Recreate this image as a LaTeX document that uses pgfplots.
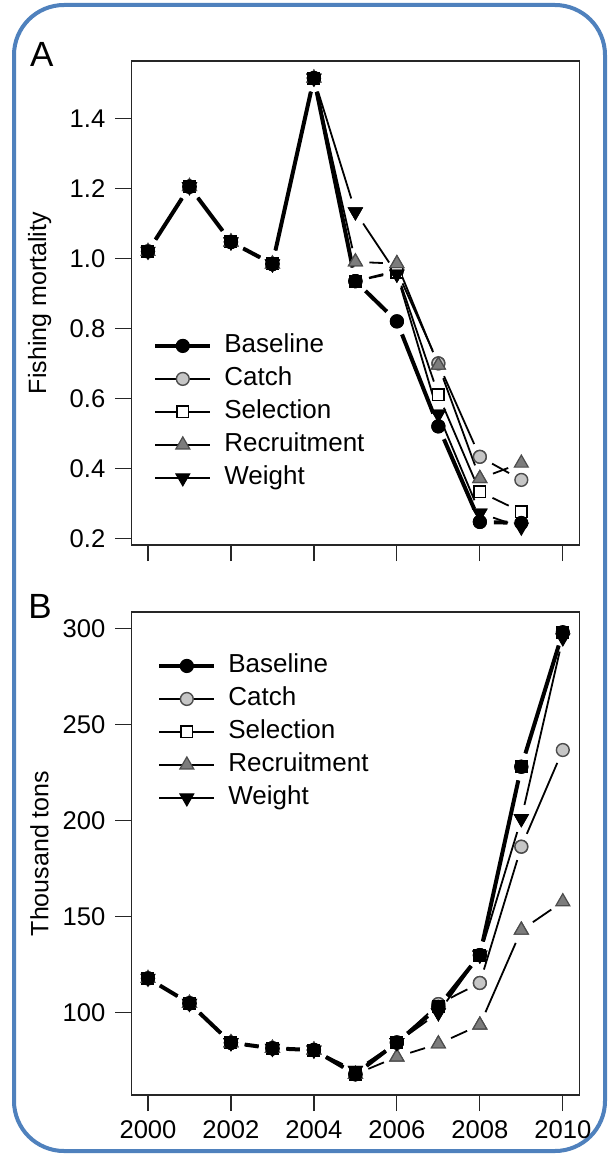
\documentclass[border=0pt]{standalone}
\usepackage{fontspec}
\setmainfont{Liberation Sans}
\usepackage{pgfplots}
\usepackage{pgfplotstable}
\pgfplotsset{compat=1.18}

\definecolor{frameblue}{HTML}{4F81BD}
\definecolor{catchfill}{HTML}{C6C6C6}
\definecolor{recfill}{HTML}{7C7C7C}

% Every row is one line segment of a scenario: (x, y) -> (nx, ny)
% ---------------- Panel A: fishing mortality ----------------
\pgfplotstableread{
x     y      nx    ny
2000  1.020  2001  1.205
2001  1.205  2002  1.047
2002  1.047  2003  0.984
2003  0.984  2004  1.515
2004  1.515  2005  0.935
2005  0.935  2006  0.820
2006  0.820  2007  0.520
2007  0.520  2008  0.247
2008  0.247  2009  0.244
}\ABaseline
\pgfplotstableread{
x     y      nx    ny
2000  1.020  2001  1.205
2001  1.205  2002  1.047
2002  1.047  2003  0.984
2003  0.984  2004  1.515
2004  1.515  2005  0.935
2005  0.935  2006  0.965
2006  0.965  2007  0.700
2007  0.700  2008  0.433
2008  0.433  2009  0.367
}\ACatch
\pgfplotstableread{
x     y      nx    ny
2000  1.020  2001  1.205
2001  1.205  2002  1.047
2002  1.047  2003  0.984
2003  0.984  2004  1.515
2004  1.515  2005  0.935
2005  0.935  2006  0.960
2006  0.960  2007  0.610
2007  0.610  2008  0.333
2008  0.333  2009  0.276
}\ASelection
\pgfplotstableread{
x     y      nx    ny
2000  1.020  2001  1.205
2001  1.205  2002  1.047
2002  1.047  2003  0.984
2003  0.984  2004  1.515
2004  1.515  2005  0.990
2005  0.990  2006  0.985
2006  0.985  2007  0.695
2007  0.695  2008  0.371
2008  0.371  2009  0.415
}\ARecruitment
\pgfplotstableread{
x     y      nx    ny
2000  1.020  2001  1.205
2001  1.205  2002  1.047
2002  1.047  2003  0.984
2003  0.984  2004  1.515
2004  1.515  2005  1.133
2005  1.133  2006  0.955
2006  0.955  2007  0.555
2007  0.555  2008  0.272
2008  0.272  2009  0.232
}\AWeight

% ---------------- Panel B: thousand tons ----------------
\pgfplotstableread{
x     y      nx    ny
2000  117.9  2001  104.9
2001  104.9  2002  84.4
2002  84.4   2003  81.5
2003  81.5   2004  80.6
2004  80.6   2005  68.0
2005  68.0   2006  84.5
2006  84.5   2007  103.0
2007  103.0  2008  130.0
2008  130.0  2009  228.0
2009  228.0  2010  298.0
}\BBaseline
\pgfplotstableread{
x     y      nx    ny
2000  117.9  2001  104.9
2001  104.9  2002  84.4
2002  84.4   2003  81.5
2003  81.5   2004  80.6
2004  80.6   2005  68.0
2005  68.0   2006  84.5
2006  84.5   2007  104.5
2007  104.5  2008  115.5
2008  115.5  2009  186.4
2009  186.4  2010  236.7
}\BCatch
\pgfplotstableread{
x     y      nx    ny
2000  117.9  2001  104.9
2001  104.9  2002  84.4
2002  84.4   2003  81.5
2003  81.5   2004  80.6
2004  80.6   2005  68.0
2005  68.0   2006  84.5
2006  84.5   2007  103.0
2007  103.0  2008  130.0
2008  130.0  2009  228.0
2009  228.0  2010  298.0
}\BSelection
\pgfplotstableread{
x     y      nx    ny
2000  117.9  2001  104.9
2001  104.9  2002  84.4
2002  84.4   2003  81.5
2003  81.5   2004  80.6
2004  80.6   2005  68.0
2005  68.0   2006  77.0
2006  77.0   2007  83.8
2007  83.8   2008  93.6
2008  93.6   2009  143.0
2009  143.0  2010  157.8
}\BRecruitment
\pgfplotstableread{
x     y      nx    ny
2000  117.9  2001  104.9
2001  104.9  2002  84.4
2002  84.4   2003  81.5
2003  81.5   2004  80.6
2004  80.6   2005  70.0
2005  70.0   2006  84.5
2006  84.5   2007  100.0
2007  100.0  2008  130.0
2008  130.0  2009  201.0
2009  201.0  2010  295.0
}\BWeight

% marker styles of the five scenarios
\tikzset{
  mBase/.style={mark=*, mark size=3.3pt, mark options={fill=black, draw=black, line width=0.5pt}},
  mCatch/.style={mark=*, mark size=3.2pt, mark options={fill=catchfill, draw=black!70, line width=0.7pt}},
  mSel/.style={mark=square*, mark size=2.9pt, mark options={fill=white, draw=black, line width=0.7pt}},
  mRec/.style={mark=triangle*, mark size=4pt, mark options={fill=recfill, draw=black!70, line width=0.6pt}},
  mWt/.style={mark=triangle*, mark size=4pt, mark options={rotate=180, fill=black, draw=black, line width=0.5pt}},
  thinln/.style={line width=0.9pt, black},
  thickln/.style={line width=2pt, black},
}

\pgfplotsset{
  % lines broken around the points, as in an R type="b" plot
  seg/.style={forget plot, no markers,
    quiver={u=\thisrow{nx}-\thisrow{x}, v=\thisrow{ny}-\thisrow{y},
      every arrow/.append style={shorten <=7pt, shorten >=7pt}}},
  panel/.style={
    scale only axis, width=224pt,
    xmin=1999.6, xmax=2010.4,
    xtick={2000,2002,2004,2006,2008,2010},
    tick align=outside, tick pos=left,
    major tick length=8pt,
    axis line style={line width=0.6pt, black!85},
    every tick/.style={line width=0.6pt, black!85},
    /pgf/number format/assume math mode=true,
    /pgf/number format/set thousands separator={},
    tick label style={font=\fontsize{12.8}{15}\selectfont},
    yticklabel style={xshift=-1.5pt},
    xticklabel style={yshift=-1.3pt},
    every axis y label/.style={at={(axis description cs:-0.205,0.5)}, rotate=90, anchor=center,
      font=\fontsize{12.5}{15}\selectfont},
    legend cell align=left,
    legend style={draw=none, fill=none, inner sep=0pt, row sep=4pt, column sep=6pt,
      font=\fontsize{13}{15}\selectfont,
      nodes={inner sep=0pt, text height=9.5pt, text depth=3pt}},
    legend image code/.code={
      \draw[##1, mark=none] (0pt,0pt) -- (27.5pt,0pt);
      \draw[##1] plot coordinates {(13.75pt,0pt)};
    },
    clip=false,
  },
}

\newcommand{\series}[3]{%
  \addplot[seg, #2] table[x=x, y=y] {#1};
  \addplot[only marks, forget plot, #3] table[x=x, y=y] {#1};
  \addplot[only marks, forget plot, #3] table[x=nx, y=ny] {#1};
}
\newcommand{\scenariolegend}{%
  \addlegendimage{thickln, mBase}
  \addlegendimage{thinln, mCatch}
  \addlegendimage{thinln, mSel}
  \addlegendimage{thinln, mRec}
  \addlegendimage{thinln, mWt}
  \legend{Baseline, Catch, Selection, Recruitment, Weight}
}

\begin{document}
\begin{tikzpicture}
\fill[white] (0,0) rectangle (303.5pt,-578pt);
\useasboundingbox (0,0) rectangle (303.5pt,-578pt);
\draw[frameblue, line width=2pt, rounded corners=25pt] (7pt,-2.5pt) rectangle (302.5pt,-575.5pt);

% ---- A ----
\begin{axis}[panel,
  at={(65.7pt,-272.5pt)}, anchor=south west, height=242pt,
  ymin=0.181, ymax=1.564,
  ytick={0.2,0.4,0.6,0.8,1.0,1.2,1.4},
  yticklabel style={/pgf/number format/.cd, fixed, fixed zerofill, precision=1},
  xticklabels={},
  ylabel={Fishing mortality},
  legend style={at={(axis description cs:0.048,0.438)}, anchor=north west},
]
\series{\ACatch}{thinln}{mCatch}
\series{\ASelection}{thinln}{mSel}
\series{\ARecruitment}{thinln}{mRec}
\series{\AWeight}{thinln}{mWt}
\series{\ABaseline}{thickln}{mBase}
\scenariolegend
\node[font=\fontsize{17.5}{20}\selectfont] at (axis description cs:-0.2,1.0145) {A};
\end{axis}

% ---- B ----
\begin{axis}[panel,
  at={(65.7pt,-547.5pt)}, anchor=south west, height=241.5pt,
  ymin=57.2, ymax=308.5,
  ytick={100,150,200,250,300},
  ylabel={Thousand tons},
  legend style={at={(axis description cs:0.057,0.915)}, anchor=north west},
]
\series{\BCatch}{thinln}{mCatch}
\series{\BSelection}{thinln}{mSel}
\series{\BRecruitment}{thinln}{mRec}
\series{\BWeight}{thinln}{mWt}
\series{\BBaseline}{thickln}{mBase}
\scenariolegend
\node[font=\fontsize{17.5}{20}\selectfont] at (axis description cs:-0.204,1.0124) {B};
\end{axis}
\end{tikzpicture}
\end{document}
